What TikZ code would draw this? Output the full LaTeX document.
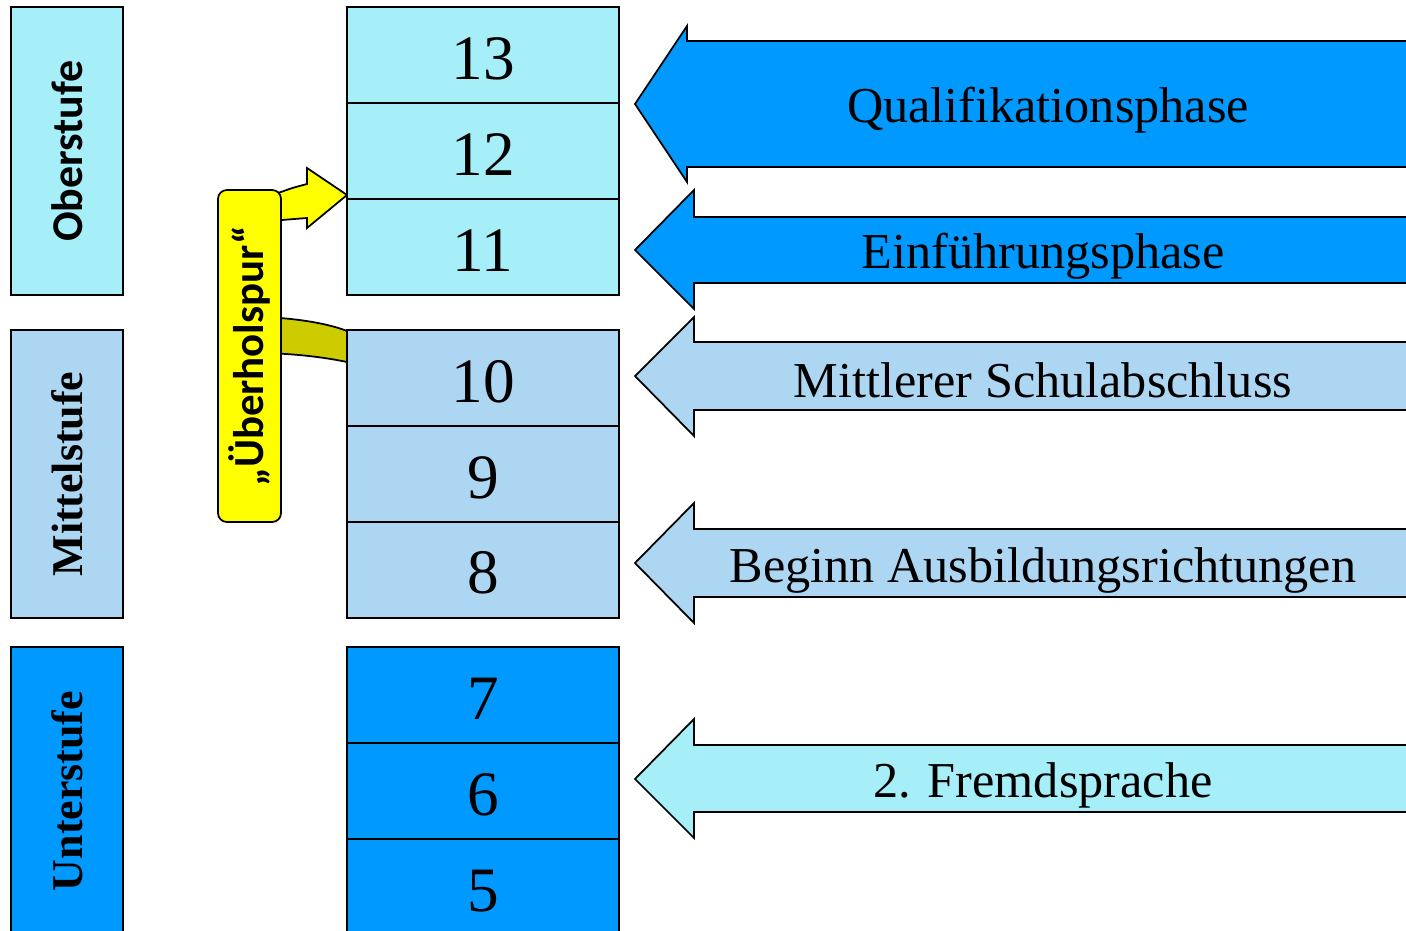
\documentclass[tikz,border=0pt]{standalone}
\usepackage{fontspec}
\setmainfont{Liberation Serif}
\newfontfamily\calibfont{Carlito}
\usetikzlibrary{positioning}
\definecolor{oberblau}{HTML}{A6EEF8}
\definecolor{mittelblau}{HTML}{ADD6F2}
\definecolor{unterblau}{HTML}{0099FF}
\definecolor{gelb}{HTML}{FFFF00}
\definecolor{oliv}{HTML}{CCCC00}

\begin{document}
\begin{tikzpicture}[x=0.02cm, y=-0.02cm,
    rand/.style={draw, line width=1pt},
    klasse/.style={rand, outer sep=0pt, minimum width=5.44cm, minimum height=1.92cm, inner sep=0pt,
      text height=27.7pt, font=\fontsize{36}{36}\selectfont},
    stufe/.style={rand, rotate=90, minimum width=5.76cm, minimum height=2.24cm, inner sep=0pt},
    pfeiltext/.style={font=\fontsize{28.6}{28.6}\selectfont}]
  \clip (0,0) rectangle (1406,930);

  % Stufen links
  \node[stufe, fill=oberblau, font=\calibfont\bfseries\fontsize{25}{25}\selectfont] (ober) at (67,151) {Oberstufe};
  \node[stufe, fill=mittelblau, font=\bfseries\fontsize{25}{25}\selectfont] (mittel) at (67,474) {Mittelstufe};
  \node[stufe, fill=unterblau, font=\bfseries\fontsize{25}{25}\selectfont] (unter) at (67,791) {Unterstufe};

  % Ueberholspur
  \draw[rand, fill=gelb] (270,195) -- (281,192) .. controls (292,188) .. (307,184) -- (307,168)
    -- (347,195) -- (307,228) -- (307,218) .. controls (294,219) .. (270,221) -- cycle;
  \draw[rand, fill=oliv] (265,317) .. controls (305,319) and (332,325) .. (347,331) -- (347,362)
    .. controls (328,358) and (300,354) .. (265,353) -- cycle;
  \node[rand, fill=gelb, rounded corners=5pt, rotate=90, minimum width=6.64cm, minimum height=1.26cm,
    font=\calibfont\bfseries\fontsize{24.4}{24.4}\selectfont] (spur) at (249.5,356) {„Überholspur“};

  % Jahrgangsstufen
  \node[klasse, fill=oberblau] (k13) at (483,55) {13};
  \node[klasse, fill=oberblau, below=0pt of k13] (k12) {12};
  \node[klasse, fill=oberblau, below=0pt of k12] (k11) {11};
  \node[klasse, fill=mittelblau] (k10) at (483,378) {10};
  \node[klasse, fill=mittelblau, below=0pt of k10] (k9) {9};
  \node[klasse, fill=mittelblau, below=0pt of k9] (k8) {8};
  \node[klasse, fill=unterblau] (k7) at (483,695) {7};
  \node[klasse, fill=unterblau, below=0pt of k7] (k6) {6};
  \node[klasse, fill=unterblau, below=0pt of k6] (k5) {5};

  % Pfeile rechts
  \draw[rand, fill=unterblau] (635,104) -- (687,26) -- (687,41) -- (1412,41) -- (1412,167) -- (687,167) -- (687,182) -- cycle;
  \draw[rand, fill=unterblau] (635,250) -- (694,190) -- (694,217) -- (1412,217) -- (1412,283) -- (694,283) -- (694,309) -- cycle;
  \draw[rand, fill=mittelblau] (635,376) -- (694,317) -- (694,342) -- (1412,342) -- (1412,410) -- (694,410) -- (694,436) -- cycle;
  \draw[rand, fill=mittelblau] (635,563) -- (694,503) -- (694,529) -- (1412,529) -- (1412,597) -- (694,597) -- (694,623) -- cycle;
  \draw[rand, fill=oberblau] (635,779) -- (694,719) -- (694,745) -- (1412,745) -- (1412,812) -- (694,812) -- (694,838) -- cycle;
  \node[pfeiltext] (quali) at (1048,110) {Qualifikationsphase};
  \node[pfeiltext] (einf) at (1043,256) {Einführungsphase};
  \node[pfeiltext] (msa) at (1043,380) {Mittlerer Schulabschluss};
  \node[pfeiltext] (ausb) at (1043,570) {Beginn Ausbildungsrichtungen};
  \node[pfeiltext] (fremd) at (1043,785) {2. Fremdsprache};
\end{tikzpicture}
\end{document}
